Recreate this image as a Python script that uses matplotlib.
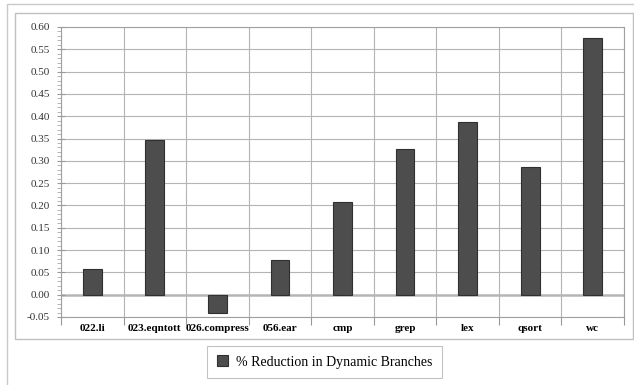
import numpy as np
import matplotlib.pyplot as plt
from matplotlib.patches import Rectangle
from matplotlib.ticker import MultipleLocator, FixedLocator

benchmarks = ['022.li', '023.eqntott', '026.compress', '056.ear', 'cmp',
              'grep', 'lex', 'qsort', 'wc']
reduction = [0.058, 0.347, -0.042, 0.078, 0.208, 0.327, 0.387, 0.287, 0.575]
series_name = '% Reduction in Dynamic Branches'

plt.rcParams['font.family'] = ['Liberation Serif', 'DejaVu Serif']

W, H = 634, 385
fig = plt.figure(figsize=(W / 100, H / 100), dpi=100)

# frames around the chart, given in pixels
def px_rect(x0, y0, x1, y1, **kw):
    r = Rectangle((x0 / W, 1 - y1 / H), (x1 - x0) / W, (y1 - y0) / H,
                  transform=fig.transFigure, fill=False, **kw)
    fig.add_artist(r)

px_rect(7, 4, 660, 400, edgecolor='#c8c8c8', lw=1.0)
px_rect(15, 13, 633, 339, edgecolor='#c0c0c0', lw=1.0)

ax = fig.add_axes([61 / W, 1 - 317 / H, (624 - 61) / W, (317 - 27) / H])

x = np.arange(len(benchmarks))
bars = ax.bar(x, reduction, width=0.3, color='#4d4d4d', edgecolor='#303030',
              linewidth=0.8, zorder=3, label=series_name)

ax.set_xlim(-0.5, len(benchmarks) - 0.5)
ax.set_ylim(-0.05, 0.60)

ax.yaxis.set_major_locator(MultipleLocator(0.05))
ax.yaxis.set_minor_locator(MultipleLocator(0.01))
ax.yaxis.set_major_formatter(plt.FuncFormatter(lambda v, p: f'{v:.2f}'))

# gridlines sit between categories, labels at the centres
ax.xaxis.set_major_locator(FixedLocator(np.arange(-0.5, len(benchmarks), 1.0)))
ax.xaxis.set_major_formatter(plt.NullFormatter())
ax.set_xticks(x, minor=True)
ax.set_xticklabels(benchmarks, minor=True, fontweight='bold', fontsize=8)

ax.tick_params(axis='x', which='major', length=6, direction='out',
               color='#999999', width=0.8)
ax.tick_params(axis='x', which='minor', length=0, pad=5)
ax.tick_params(axis='y', which='major', length=6, direction='inout',
               color='#999999', width=0.8, labelsize=8, pad=5,
               labelcolor='#333333')
ax.tick_params(axis='y', which='minor', length=3, direction='out',
               color='#aaaaaa', width=0.6)

ax.grid(True, which='major', color='#b4b4b4', lw=0.8, zorder=0)
ax.axhline(0, color='#c4c4c4', lw=2.0, zorder=1)

for s in ax.spines.values():
    s.set_color('#a0a0a0')
    s.set_linewidth(0.8)

leg = fig.legend(handles=[bars], labels=[series_name], loc='center',
                 bbox_to_anchor=((211 + 438) / 2 / W, 1 - 362 / H),
                 fontsize=10, frameon=True, fancybox=False,
                 edgecolor='#b4b4b4', handlelength=0.8, handleheight=0.8,
                 borderpad=0.7, handletextpad=0.6, borderaxespad=0)
leg.get_frame().set_linewidth(0.8)

fig.savefig('out.png', dpi=100)
